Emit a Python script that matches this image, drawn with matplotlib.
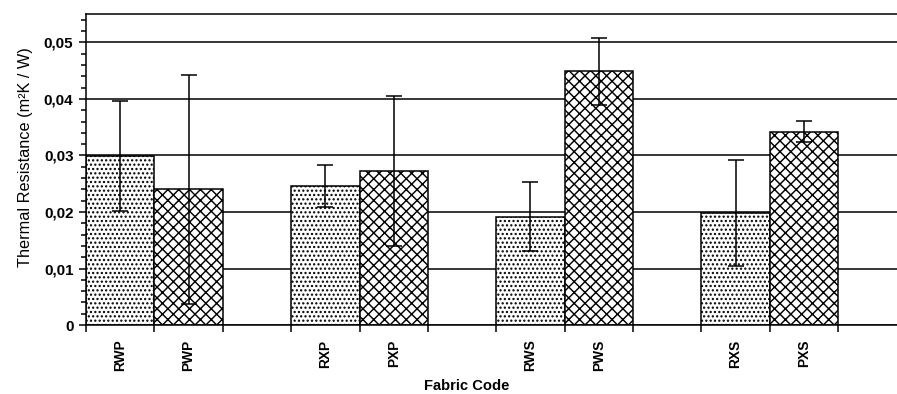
import numpy as np
import matplotlib
matplotlib.use("Agg")
import matplotlib.pyplot as plt
from matplotlib.ticker import MultipleLocator, FuncFormatter, FixedLocator

plt.rcParams["font.family"] = ["Liberation Sans", "DejaVu Sans"]
plt.rcParams["hatch.linewidth"] = 0.8

# thermal resistance per fabric, mean and standard deviation
fabrics = ["RWP", "PWP", "RXP", "PXP", "RWS", "PWS", "RXS", "PXS"]
resistance = [0.0299, 0.0240, 0.0246, 0.0273, 0.0192, 0.0449, 0.0198, 0.0342]
errors = [0.0097, 0.0203, 0.0038, 0.0133, 0.0061, 0.0059, 0.0094, 0.0019]
yticks = [0, 0.01, 0.02, 0.03, 0.04, 0.05]

DPI = 130
fig = plt.figure(figsize=(897 / DPI, 394 / DPI), dpi=DPI)
ax = fig.add_axes([0.0959, 0.175, 0.904, 0.789])

# pairs of bars, one empty slot between pairs
idx = np.arange(len(fabrics))
pos = idx + idx // 2
hatches = ["....." if f.startswith("R") else "xxxx" for f in fabrics]

ax.bar(pos, resistance, width=1.0, color="white", edgecolor="black",
       linewidth=0.85, hatch=hatches, zorder=2)
ax.errorbar(pos, resistance, yerr=errors, fmt="none", ecolor="black",
            elinewidth=0.85, capsize=4.4, capthick=0.85, zorder=3)

ax.set_xlim(-0.5, 11.36)
ax.set_ylim(0, 0.055)

ax.yaxis.set_major_locator(FixedLocator(yticks))
ax.yaxis.set_minor_locator(MultipleLocator(0.002))
ax.yaxis.set_major_formatter(
    FuncFormatter(lambda v, _: "0" if v == 0 else f"{v:.2f}".replace(".", ",")))
ax.yaxis.grid(True, which="major", color="black", linewidth=0.85)
ax.set_axisbelow(True)

ax.set_xticks(pos)
ax.set_xticklabels(fabrics, rotation=90, fontweight="bold", fontsize=7.6)
edges = sorted(set(np.concatenate([pos - 0.5, pos + 0.5])))
ax.xaxis.set_minor_locator(FixedLocator(edges))
ax.tick_params(axis="x", which="major", length=0, pad=8)
ax.tick_params(axis="x", which="minor", length=4, width=0.85)
ax.tick_params(axis="y", which="major", length=4, width=0.85, labelsize=8.4, pad=3)
ax.tick_params(axis="y", which="minor", length=3, width=0.85)
for lab in ax.get_yticklabels():
    lab.set_fontweight("bold")

for side in ["left", "bottom", "top"]:
    ax.spines[side].set_linewidth(0.85)
ax.spines["right"].set_visible(False)

ax.set_xlabel("Fabric Code", fontweight="bold", fontsize=8.2)
ax.xaxis.set_label_coords(0.469, -0.172)
ax.set_ylabel("Thermal Resistance (m²K / W)", fontsize=9)
ax.yaxis.set_label_coords(-0.066, 0.54)

fig.savefig("out.png", dpi=DPI)
